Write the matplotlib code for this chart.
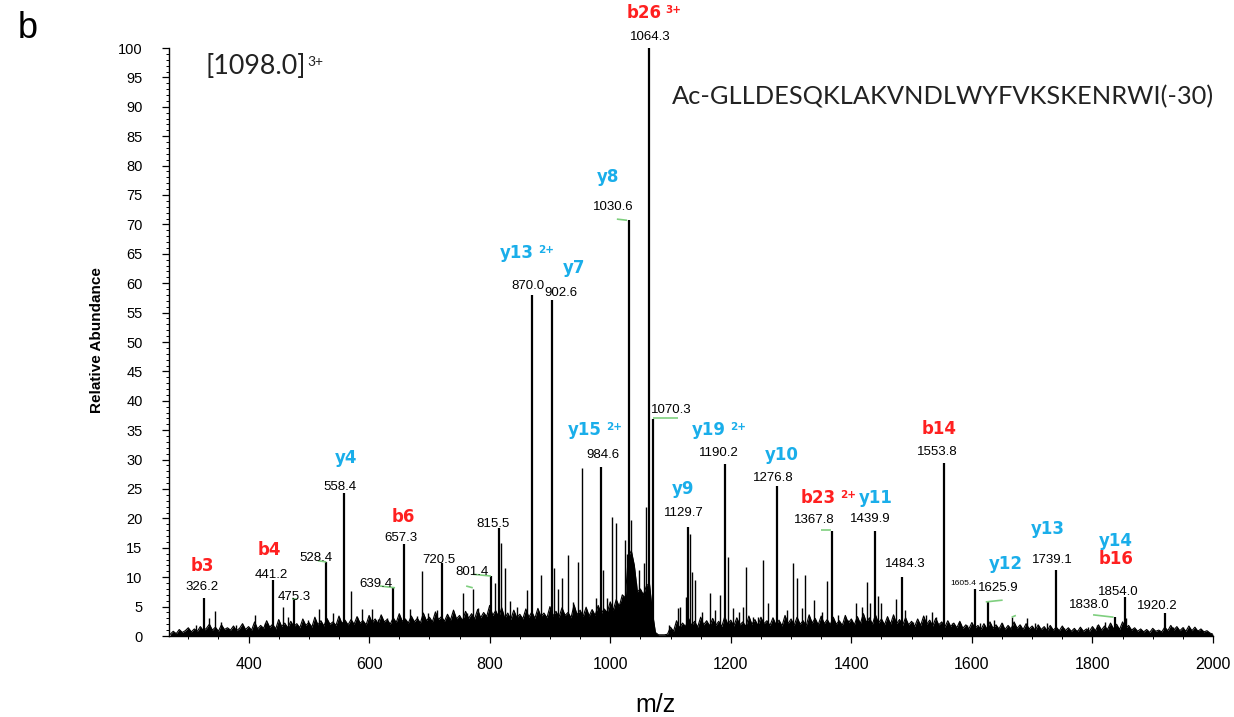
import numpy as np
import matplotlib
matplotlib.use("Agg")
import matplotlib.pyplot as plt
from matplotlib.ticker import MultipleLocator

# ---------------- data ----------------
# labelled (main) peaks: m/z and relative abundance
peak_mz = [326.2, 441.2, 475.3, 528.4, 558.4, 639.4, 657.3, 720.5, 801.4, 815.5,
           870.0, 902.6, 984.6, 1030.6, 1064.3, 1070.3, 1129.7, 1190.2, 1276.8,
           1367.8, 1439.9, 1484.3, 1553.8, 1605.4, 1625.9, 1739.1, 1838.0, 1854.0, 1920.2]
peak_int = [6.4, 9.6, 6.2, 12.6, 24.3, 8.2, 15.6, 12.4, 10.2, 18.4,
            58.0, 57.1, 28.8, 70.7, 100.0, 36.9, 18.5, 29.2, 25.5,
            17.8, 17.8, 10.0, 29.4, 8.0, 5.8, 11.2, 3.3, 6.6, 3.9]
peak_text = ["326.2", "441.2", "475.3", "528.4", "558.4", "639.4", "657.3", "720.5", "801.4", "815.5",
             "870.0", "902.6", "984.6", "1030.6", "1064.3", "1070.3", "1129.7", "1190.2", "1276.8",
             "1367.8", "1439.9", "1484.3", "1553.8", "1605.4", "1625.9", "1739.1", "1838.0", "1854.0", "1920.2"]
# label anchor (data coords)
peak_text_x = [323, 437, 475, 512, 552, 611, 653, 716, 771, 806,
               864, 918, 988, 1005, 1066, 1101, 1122, 1180, 1270,
               1338, 1431, 1490, 1543, 1585, 1643, 1734, 1794, 1843, 1908]
peak_text_y = [8.3, 10.4, 6.6, 13.3, 25.3, 8.8, 16.7, 12.9, 10.9, 19.0,
               59.5, 58.3, 30.8, 73.0, 101.9, 38.4, 20.9, 31.1, 26.9,
               19.7, 19.9, 12.2, 31.3, 9.0, 8.2, 12.9, 5.3, 7.5, 5.1]

# secondary (unlabelled) peaks
spike_mz = [313, 335, 344, 354, 379, 411, 427, 457, 465, 499, 517, 540, 555, 570, 580, 588,
            605, 615, 630, 668, 679, 688, 698, 713, 729, 745, 756, 763, 772, 781, 809, 819,
            825, 834, 845, 862, 885, 907, 913, 920, 930, 938, 946, 953, 968, 976, 988, 995,
            1003, 1010, 1016, 1024, 1028, 1035, 1042, 1048, 1056, 1060, 1097, 1112, 1116,
            1126, 1132, 1135, 1140, 1152, 1165, 1174, 1182, 1196, 1204, 1213, 1220, 1225,
            1237, 1245, 1253, 1262, 1293, 1303, 1310, 1318, 1323, 1338, 1351, 1359, 1378,
            1394, 1408, 1417, 1426, 1431, 1444, 1450, 1464, 1474, 1489, 1502, 1524, 1534,
            1540, 1567, 1579, 1592, 1613, 1637, 1650, 1666, 1680, 1691, 1704, 1724, 1752,
            1774, 1792, 1807, 1820, 1828, 1855, 1867, 1890, 1933, 1950, 1962, 1975]
spike_int = [1.8, 3.1, 4.3, 2.4, 1.9, 3.6, 2.2, 4.9, 3.2, 2.7, 4.6, 3.9, 2.4, 7.7, 3.2, 4.6,
             4.6, 2.9, 3.1, 4.6, 3.4, 11.0, 3.9, 4.4, 3.2, 2.9, 7.3, 3.9, 8.0, 4.8, 9.0, 15.8,
             11.6, 6.0, 5.0, 7.8, 10.4, 11.6, 8.0, 9.9, 13.8, 5.8, 12.6, 28.5, 3.9, 6.5, 11.2, 6.5,
             20.2, 19.2, 5.6, 16.3, 14.0, 19.7, 9.0, 11.2, 12.4, 22.0, 1.9, 4.8, 4.9,
             6.6, 17.3, 10.9, 9.5, 4.1, 7.3, 4.4, 7.0, 13.4, 4.8, 4.1, 4.9, 11.7,
             3.2, 3.2, 12.9, 5.6, 4.4, 12.4, 9.9, 4.8, 10.4, 6.1, 4.1, 9.4, 3.6,
             2.7, 5.6, 4.9, 9.2, 5.6, 6.8, 5.6, 2.4, 6.3, 4.4, 2.4, 3.6, 4.1,
             3.2, 2.2, 2.4, 1.9, 2.2, 2.7, 2.2, 3.2, 1.9, 3.1, 2.2, 2.2, 1.4,
             1.0, 1.6, 1.9, 2.4, 1.7, 3.1, 1.2, 1.0, 1.6, 1.5, 1.2, 1.0]

# baseline noise ("grass") read every 5 m/z from 270 to 2000
noise_mz = list(range(270, 2001, 5))
noise_int = [
    0.3, 0.8, 0.4, 1.1, 0.6, 0.9, 1.4, 0.7, 1.2, 0.8, 1.6, 0.9, 1.3, 2.0, 1.0, 1.5, 0.8, 1.9, 1.1, 1.4,
    1.0, 1.7, 0.9, 1.3, 2.1, 1.1, 1.6, 1.0, 2.4, 1.2, 1.8, 1.3, 2.6, 1.5, 2.0, 1.2, 2.8, 1.6, 2.2, 1.4,
    2.5, 1.6, 2.1, 1.4, 2.9, 1.8, 2.3, 1.5, 3.2, 1.9, 2.6, 1.7, 3.0, 2.0, 2.4, 1.8, 3.4, 2.1, 2.7, 1.9,
    2.8, 2.0, 3.3, 2.2, 2.6, 1.9, 3.5, 2.3, 2.9, 2.1, 3.6, 2.4, 2.8, 2.0, 3.1, 2.3, 3.8, 2.5, 2.9, 2.2,
    3.4, 2.4, 3.0, 2.2, 3.9, 2.6, 3.2, 2.4, 4.1, 2.8, 3.3, 2.5, 3.7, 2.7, 4.4, 2.9, 3.5, 2.6, 4.2, 3.0,
    3.8, 2.9, 4.5, 3.1, 4.0, 3.3, 5.2, 3.5, 4.3, 3.2, 4.8, 3.0, 3.9, 2.8, 4.4, 3.1, 3.7, 2.9, 4.6, 3.2,
    4.1, 3.0, 4.7, 3.3, 3.9, 3.1, 5.0, 3.4, 4.2, 3.2, 4.8, 3.5, 4.0, 3.1, 5.3, 3.6, 4.4, 3.3, 4.9, 3.4,
    4.5, 3.5, 5.2, 3.8, 4.6, 4.0, 5.8, 4.4, 6.2, 5.0, 7.0, 6.5, 13.5, 14.5, 12.0, 7.5, 8.0, 7.0, 8.5, 9.0,
    4.0, 0.6, 0.2, 0.2, 0.2, 0.3, 1.5, 0.8, 2.6, 1.4, 2.2, 1.6, 3.0, 1.8, 2.5, 1.5, 3.2, 1.9, 2.6, 1.7,
    3.0, 1.8, 2.5, 1.6, 3.3, 2.0, 2.7, 1.7, 3.1, 1.9, 2.4, 1.6, 3.4, 2.0, 2.8, 1.8, 3.2, 2.1, 2.6, 1.8,
    3.1, 1.9, 2.7, 1.7, 3.5, 2.1, 2.9, 1.8, 3.2, 2.0, 2.6, 1.7, 3.6, 2.2, 3.0, 1.9, 3.4, 2.1, 2.8, 1.9,
    3.2, 2.0, 2.6, 1.8, 3.5, 2.2, 2.9, 1.9, 3.3, 2.1, 3.8, 2.3, 3.1, 2.0, 3.6, 2.2, 2.9, 1.9, 3.3, 2.0,
    3.6, 2.1, 2.8, 1.8, 3.1, 1.9, 2.5, 1.6, 2.9, 1.8, 3.4, 2.0, 2.7, 1.7, 3.0, 1.9, 2.4, 1.5, 2.6, 1.6,
    2.2, 1.4, 2.5, 1.3, 1.9, 1.2, 2.3, 1.3, 1.8, 1.1, 2.1, 1.2, 2.4, 1.3, 1.9, 1.2, 2.2, 1.1, 1.8, 1.2,
    2.4, 1.3, 1.9, 1.1, 2.1, 1.2, 1.7, 1.0, 1.9, 1.1, 1.6, 0.9, 1.8, 1.0, 1.5, 0.9, 1.7, 0.9, 1.4, 0.8,
    1.3, 0.7, 1.5, 0.8, 1.2, 0.8, 1.6, 0.9, 1.9, 1.0, 1.7, 1.1, 2.2, 1.2, 2.0, 1.1, 2.4, 1.3, 1.8, 1.0,
    1.4, 0.8, 1.2, 0.7, 1.1, 0.6, 1.3, 0.8, 1.0, 0.7, 1.5, 0.9, 1.8, 1.0, 1.6, 0.9, 1.4, 0.8, 1.7, 0.9,
    1.5, 0.8, 1.2, 0.7, 0.9, 0.5, 0.3]

# fragment-ion annotations: name, superscript, x, y
ion_name = ["b3", "b4", "y4", "b6", "y13", "y7", "y8", "b26", "y15", "y19", "y9", "y10",
            "b23", "y11", "b14", "y12", "y13", "y14", "b16"]
ion_sup = ["", "", "", "", "2+", "", "", "3+", "2+", "2+", "", "",
           "2+", "", "", "", "", "", ""]
ion_x = [323, 434, 562, 656, 845, 940, 996, 1056, 958, 1164, 1121, 1285,
         1345, 1441, 1545, 1656, 1726, 1839, 1840]
ion_y = [11.9, 14.6, 30.3, 20.2, 65.1, 62.6, 78.1, 106.0, 35.0, 35.0, 25.0, 30.8,
         23.5, 23.5, 35.2, 12.2, 18.2, 16.2, 13.1]

# small green marker segments (x0, x1, y0, y1)
green_x0 = [515, 618, 772, 761, 472, 1011, 1071, 1349, 1623, 1666, 1801]
green_x1 = [529, 643, 802, 772, 480, 1028, 1112, 1366, 1651, 1673, 1835]
green_y0 = [12.8, 8.5, 10.5, 8.5, 6.3, 70.9, 37.1, 18.0, 5.8, 3.2, 3.6]
green_y1 = [12.6, 8.2, 10.2, 8.2, 6.3, 70.7, 37.1, 18.0, 6.1, 3.5, 3.2]

x_ticks = [400, 600, 800, 1000, 1200, 1400, 1600, 1800, 2000]
y_ticks = list(range(0, 101, 5))

# ---------------- figure ----------------
W, H = 1234, 717
fig = plt.figure(figsize=(W / 100, H / 100), dpi=100)
ax = fig.add_axes([169 / W, 1 - 636 / H, (1213 - 169) / W, (636 - 48) / H])

narrow = ["Liberation Sans Narrow", "Liberation Sans", "DejaVu Sans"]
arial = ["Liberation Sans", "DejaVu Sans"]
calib = ["Lato", "Open Sans", "DejaVu Sans"]
RED = "#ff2020"
BLUE = "#1aaeea"

ax.fill_between(noise_mz, 0, noise_int, color="black", linewidth=0, zorder=2)
ax.plot(noise_mz, noise_int, color="black", linewidth=0.8, zorder=2)
ax.vlines(spike_mz, 0, spike_int, color="black", linewidth=1.0, zorder=2)
ax.vlines(peak_mz, 0, peak_int, color="black", linewidth=1.6, zorder=3)

for x0, x1, y0, y1 in zip(green_x0, green_x1, green_y0, green_y1):
    ax.plot([x0, x1], [y0, y1], color="#7fcf7f", linewidth=1.2, zorder=4, solid_capstyle="butt")

for t, x, y in zip(peak_text, peak_text_x, peak_text_y):
    fs = 6 if t == "1605.4" else 9.5
    ax.text(x, y, t, ha="center", va="center", fontsize=fs, family=arial, color="black", zorder=5)

for name, sup, x, y in zip(ion_name, ion_sup, ion_x, ion_y):
    c = RED if name.startswith("b") else BLUE
    t = ax.text(x, y, name, ha="center", va="center", fontsize=12, fontweight="bold",
                family="DejaVu Sans", color=c, zorder=5)
    if sup:
        ax.annotate(sup, xy=(1.0, 0.95), xycoords=t, xytext=(3, 0), textcoords="offset points",
                    ha="left", va="top", fontsize=7.5, fontweight="bold",
                    family="DejaVu Sans", color=c, zorder=5)

ax.set_xlim(268, 2000)
ax.set_ylim(0, 100)
ax.set_xticks(x_ticks)
ax.set_yticks(y_ticks)
ax.xaxis.set_minor_locator(MultipleLocator(50))
ax.yaxis.set_minor_locator(MultipleLocator(1))
for s in ["top", "right"]:
    ax.spines[s].set_visible(False)
for s in ["left", "bottom"]:
    ax.spines[s].set_linewidth(1.0)
ax.tick_params(axis="both", which="major", direction="out", length=5, width=0.9, colors="black")
ax.tick_params(axis="both", which="minor", direction="out", length=2.5, width=0.7)
ax.tick_params(axis="y", which="major", pad=14, labelsize=10.5)
ax.tick_params(axis="x", which="major", pad=10, labelsize=11.5)
for lab in ax.get_xticklabels() + ax.get_yticklabels():
    lab.set_family(narrow)

fig.text(97 / W, 1 - 340 / H, "Relative Abundance", rotation=90, ha="center", va="center",
         fontsize=11, fontweight="bold", family=narrow)
fig.text(655 / W, 1 - 705 / H, "m/z", ha="center", va="center", fontsize=18, family=narrow)
fig.text(18 / W, 1 - 28 / H, "b", ha="left", va="center", fontsize=26, family=arial)

prec = fig.text(205 / W, 1 - 66 / H, "[1098.0]", ha="left", va="center", fontsize=17,
                family=calib, color="#222222")
seq = fig.text(672 / W, 1 - 97 / H, "Ac-GLLDESQKLAKVNDLWYFVKSKENRWI(-30)", ha="left", va="center",
               fontsize=17, family=calib, color="#222222")

# scale the two free-text lines to the widths they occupy in the reference
fig.canvas.draw()
rend = fig.canvas.get_renderer()
for txt, target in [(prec, 101.0), (seq, 541.0)]:
    w = txt.get_window_extent(rend).width
    txt.set_fontsize(txt.get_fontsize() * target / w)
fig.canvas.draw()
fig.text(1, 0, "", transform=None)
ann = plt.annotate("3+", xy=(1.0, 0.9), xycoords=prec, xytext=(1, 0), textcoords="offset points",
                   ha="left", va="top", fontsize=10, family=calib, color="#222222")

fig.savefig("out.png", dpi=100)
